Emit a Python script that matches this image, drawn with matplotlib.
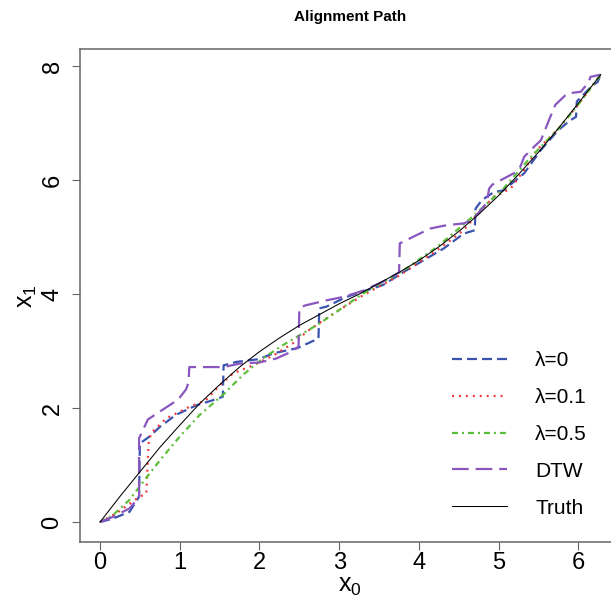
import matplotlib.pyplot as plt

# true warping path
truth_x = [0, 0.25, 0.5, 0.75, 1.0, 1.25, 1.5, 1.75, 2.0, 2.25, 2.5, 2.75, 3.0, 3.25,
           3.5, 3.75, 4.0, 4.25, 4.5, 4.75, 5.0, 5.25, 5.5, 5.75, 6.0, 6.28]
truth_y = [0, 0.45, 0.88, 1.31, 1.70, 2.08, 2.41, 2.72, 2.99, 3.23, 3.45, 3.64, 3.83, 4.00,
           4.19, 4.38, 4.59, 4.83, 5.10, 5.40, 5.73, 6.10, 6.49, 6.91, 7.35, 7.85]

# lambda = 0
lam0_x = [0, 0.16, 0.37, 0.47, 0.49, 0.50, 0.62, 0.75, 0.95, 1.21, 1.42, 1.54, 1.55, 1.71,
          2.0, 2.17, 2.47, 2.74, 2.75, 2.84, 3.09, 3.55, 3.81, 4.31, 4.56, 4.70, 4.71, 4.79,
          4.94, 5.06, 5.32, 5.53, 5.75, 5.90, 5.97, 5.98, 6.16, 6.24, 6.28]
lam0_y = [0, 0.06, 0.18, 0.40, 0.45, 1.38, 1.50, 1.67, 1.88, 2.05, 2.14, 2.20, 2.75, 2.81,
          2.86, 2.96, 3.05, 3.22, 3.75, 3.78, 3.95, 4.16, 4.39, 4.80, 5.06, 5.12, 5.50, 5.65,
          5.79, 5.82, 6.12, 6.53, 6.88, 7.05, 7.11, 7.38, 7.64, 7.72, 7.85]

# lambda = 0.1
lam1_x = [0, 0.20, 0.49, 0.58, 0.61, 0.64, 0.83, 1.12, 1.33, 1.50, 1.67, 1.92, 2.17, 2.47,
          2.59, 2.93, 3.30, 3.76, 4.23, 4.56, 4.73, 4.94, 5.15, 5.32, 5.48, 5.75, 6.0, 6.28]
lam1_y = [0, 0.15, 0.44, 0.50, 1.38, 1.56, 1.82, 2.02, 2.14, 2.40, 2.61, 2.75, 2.92, 3.18,
          3.34, 3.66, 3.98, 4.33, 4.77, 5.12, 5.40, 5.71, 5.85, 6.18, 6.53, 6.90, 7.33, 7.85]

# lambda = 0.5
lam5_x = [0, 0.16, 0.37, 0.62, 0.79, 1.0, 1.25, 1.54, 1.79, 2.05, 2.30, 2.76, 3.30, 3.81,
          4.23, 4.65, 5.06, 5.40, 5.75, 6.0, 6.28]
lam5_y = [0, 0.12, 0.39, 0.85, 1.15, 1.50, 1.88, 2.23, 2.58, 2.88, 3.11, 3.49, 4.01, 4.42,
          4.83, 5.33, 5.85, 6.40, 6.90, 7.33, 7.85]

# plain DTW
dtw_x = [0, 0.16, 0.37, 0.49, 0.49, 0.60, 0.98, 1.08, 1.11, 1.12, 1.55, 1.75, 2.0, 2.21,
         2.40, 2.49, 2.50, 2.57, 2.84, 3.05, 3.30, 3.55, 3.75, 3.76, 3.89, 4.14, 4.35, 4.56,
         4.67, 4.78, 4.85, 4.88, 4.92, 5.19, 5.27, 5.32, 5.44, 5.53, 5.63, 5.71, 5.86, 6.03,
         6.13, 6.15, 6.28]
dtw_y = [0, 0.09, 0.24, 0.44, 1.47, 1.80, 2.15, 2.33, 2.45, 2.72, 2.72, 2.78, 2.80, 2.87,
         2.99, 3.08, 3.75, 3.80, 3.89, 3.95, 4.06, 4.22, 4.38, 4.89, 4.98, 5.15, 5.21, 5.24,
         5.30, 5.48, 5.60, 5.85, 5.92, 6.12, 6.23, 6.41, 6.58, 6.70, 7.05, 7.32, 7.52, 7.55,
         7.72, 7.81, 7.85]

plt.rcParams['font.family'] = ['Liberation Sans', 'DejaVu Sans']
plt.rcParams['mathtext.fontset'] = 'custom'
plt.rcParams['mathtext.rm'] = 'Liberation Sans'
plt.rcParams['mathtext.it'] = 'Liberation Sans'
plt.rcParams['lines.scale_dashes'] = False

W, H = 611, 598
fig = plt.figure(figsize=(W / 100, H / 100), dpi=100)
ax = fig.add_axes([80 / W, (H - 541.7) / H, 541 / W, (541.7 - 49) / H])

ax.plot(lam0_x, lam0_y, color='#3b54b0', lw=1.6, dashes=(7.2, 3.6), label='λ=0')
ax.plot(lam1_x, lam1_y, color='#f0383a', lw=1.6, dashes=(1.4, 3.6), label='λ=0.1')
ax.plot(lam5_x, lam5_y, color='#5cbf3a', lw=1.6, dashes=(4.3, 2.9, 1.4, 2.9), label='λ=0.5')
ax.plot(dtw_x, dtw_y, color='#8a56bf', lw=1.6, dashes=(12, 5), label='DTW')
ax.plot(truth_x, truth_y, color='black', lw=0.75, label='Truth')

ax.set_xlim(-0.251, 6.534)
ax.set_ylim(-0.344, 8.30)
ax.set_xticks([0, 1, 2, 3, 4, 5, 6])
ax.set_yticks([0, 2, 4, 6, 8])
for s in ax.spines.values():
    s.set_color('#666666')
    s.set_linewidth(1.1)
ax.tick_params(direction='out', length=5.8, width=0.8, color='#666666', labelsize=17)
ax.tick_params(axis='x', pad=1.5)
ax.tick_params(axis='y', pad=6)
for lab in ax.get_yticklabels():
    lab.set_rotation(90)
    lab.set_va('center')

fig.text(350 / W, 1 - 17 / H, 'Alignment Path', ha='center', va='center',
         fontsize=11, fontweight='bold')
fig.text(350 / W, 1 - 586 / H, r'$\mathrm{x}_0$', ha='center', va='center', fontsize=18)
fig.text(27 / W, 1 - 296 / H, r'$\mathrm{x}_1$', ha='center', va='center', fontsize=18,
         rotation=90)

ax.legend(loc='upper left', bbox_to_anchor=(451.7 / W, 1 - 351 / H),
          bbox_transform=fig.transFigure, frameon=False, fontsize=15, borderpad=0,
          borderaxespad=0, handlelength=2.66, handletextpad=1.35, labelspacing=0.86)

fig.savefig('out.png', dpi=100)
